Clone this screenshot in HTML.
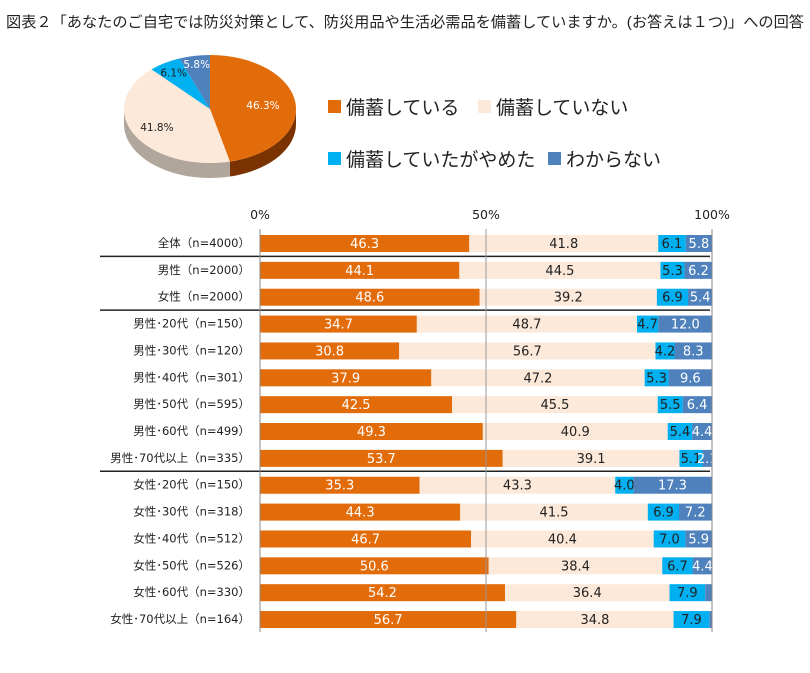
<!DOCTYPE html>
<html><head><meta charset="utf-8">
<style>
body{margin:0;background:#fff;}
svg{display:block;font-family:"Liberation Sans","Noto Sans CJK JP",sans-serif;}
</style></head>
<body>
<svg id="c" width="810" height="673" viewBox="0 0 810 673" xmlns="http://www.w3.org/2000/svg">
<text x="6" y="27" font-size="15" textLength="798" lengthAdjust="spacingAndGlyphs" fill="#222">図表２「あなたのご自宅では防災対策として、防災用品や生活必需品を備蓄していますか。(お答えは１つ)」への回答</text>
<g id="pie"></g>
<g>
 <g><rect x="328" y="100" width="13" height="13" fill="#E36C0A"/><text x="346" y="114" font-size="19" fill="#222">備蓄している</text></g>
 <g><rect x="478" y="100" width="13" height="13" fill="#FDE9D9"/><text x="496" y="114" font-size="19" fill="#222">備蓄していない</text></g>
 <g><rect x="328" y="152" width="13" height="13" fill="#00B0F0"/><text x="346" y="166" font-size="19" fill="#222">備蓄していたがやめた</text></g>
 <g><rect x="548" y="152" width="13" height="13" fill="#4F81BD"/><text x="566" y="166" font-size="19" fill="#222">わからない</text></g>
</g>
<g id="bars"></g>
</svg>
<script>
const categories=["全体（n=4000）","男性（n=2000）","女性（n=2000）","男性･20代（n=150）","男性･30代（n=120）","男性･40代（n=301）","男性･50代（n=595）","男性･60代（n=499）","男性･70代以上（n=335）","女性･20代（n=150）","女性･30代（n=318）","女性･40代（n=512）","女性･50代（n=526）","女性･60代（n=330）","女性･70代以上（n=164）"];
const stockVals=[46.3,44.1,48.6,34.7,30.8,37.9,42.5,49.3,53.7,35.3,44.3,46.7,50.6,54.2,56.7];
const noStockVals=[41.8,44.5,39.2,48.7,56.7,47.2,45.5,40.9,39.1,43.3,41.5,40.4,38.4,36.4,34.8];
const stoppedVals=[6.1,5.3,6.9,4.7,4.2,5.3,5.5,5.4,5.1,4.0,6.9,7.0,6.7,7.9,7.9];
const unknownVals=[5.8,6.2,5.4,12.0,8.3,9.6,6.4,4.4,2.1,17.3,7.2,5.9,4.4,1.5,0.6];
const pieVals=[46.3,41.8,6.1,5.8];
const tickVals=[0,50,100];
const tickLabels=["0%","50%","100%"];

const NS="http://www.w3.org/2000/svg";
function mk(tag,attrs,parent){const e=document.createElementNS(NS,tag);for(const k in attrs)e.setAttribute(k,attrs[k]);parent.appendChild(e);return e;}
const colors=["#E36C0A","#FDE9D9","#00B0F0","#4F81BD"];
const txtCol=["#fff","#222","#222","#fff"];
const series=[stockVals,noStockVals,stoppedVals,unknownVals];
const segNames=["stock","no-stock","stopped","unknown"];

const X0=260,X1=712;
const xs=v=>X0+(X1-X0)*v/100;
const Y0=243,DY=26.86;
const ys=i=>Y0+i*DY;
const bars=document.getElementById('bars');
tickVals.forEach((t,i)=>{
 const tx=mk('text',{x:xs(t),y:219,'font-size':12.5,'text-anchor':'middle',fill:'#222','font-family':'"DejaVu Sans",sans-serif'},bars);
 tx.textContent=tickLabels[i];
 
 
});
const seps=[0,2,8];
seps.forEach(i=>{
 const l=mk('line',{x1:100,x2:710,y1:ys(i)+DY/2,y2:ys(i)+DY/2,stroke:'#222','stroke-width':1.5},bars);
 
 
});
categories.forEach((c,i)=>{
 const y=ys(i);
 const lb=mk('text',{x:250,y:y+4,'font-size':11.5,'text-anchor':'end',fill:'#222','font-family':'"DejaVu Sans","Noto Sans CJK JP",sans-serif'},bars);
 lb.textContent=c;
 
 
 let acc=0;
 series.forEach((s,k)=>{
  const v=s[i];
  const r=mk('rect',{x:xs(acc),y:y-8,width:xs(acc+v)-xs(acc),height:17,fill:colors[k]},bars);
  
  
  if(v>=2){
   const t=mk('text',{x:xs(acc+v/2),y:y+5,'font-size':13,'text-anchor':'middle',fill:txtCol[k],'font-family':'"DejaVu Sans",sans-serif'},bars);
   t.textContent=v.toFixed(1);
   
   
  }
  acc+=v;
 });
});
[0,50,100].forEach(t=>{
 const l=mk('line',{x1:xs(t),x2:xs(t),y1:229,y2:632,stroke:t===50?'#999':'#888','stroke-width':1},bars);
 
 
});

const pie=document.getElementById('pie');
const cx=210,cy=109,rx=86,ry=54,dep=15;
const sideCols=["#7a3300","#b0a69c","#0080b0","#36598a"];
function pt(a,dy){return [cx+rx*Math.sin(a),cy-ry*Math.cos(a)+(dy||0)];}
let a0=0;
const tot=pieVals.reduce((a,b)=>a+b,0);
const angs=pieVals.map(v=>{const s=a0;a0+=v/tot*2*Math.PI;return [s,a0];});
angs.forEach(([s,e],k)=>{
 const ss=Math.max(s,Math.PI/2),ee=Math.min(e,3*Math.PI/2);
 if(ee<=ss)return;
 let d='';const n=30;
 for(let j=0;j<=n;j++){const p=pt(ss+(ee-ss)*j/n);d+=(j?'L':'M')+p[0]+','+p[1];}
 for(let j=n;j>=0;j--){const p=pt(ss+(ee-ss)*j/n,dep);d+='L'+p[0]+','+p[1];}
 const g=mk('path',{d:d+'Z',fill:sideCols[k]},pie);
 
 
});
angs.forEach(([s,e],k)=>{
 const p1=pt(s),p2=pt(e);
 const large=(e-s)>Math.PI?1:0;
 const d=`M${cx},${cy}L${p1[0]},${p1[1]}A${rx},${ry} 0 ${large} 1 ${p2[0]},${p2[1]}Z`;
 const g=mk('path',{d:d,fill:colors[k]},pie);
 
 
});
const pieLblPos=[0.62,0.7,0.8,0.85];
angs.forEach(([s,e],k)=>{
 const m=(s+e)/2,f=pieLblPos[k];
 const x=cx+rx*f*Math.sin(m),y=cy-ry*f*Math.cos(m)+4;
 const t=mk('text',{x:x,y:y,'font-size':10.5,'text-anchor':'middle',fill:txtCol[k],'font-family':'"DejaVu Sans",sans-serif'},pie);
 t.textContent=pieVals[k].toFixed(1)+'%';
 
 
});
</script>
</body></html>
